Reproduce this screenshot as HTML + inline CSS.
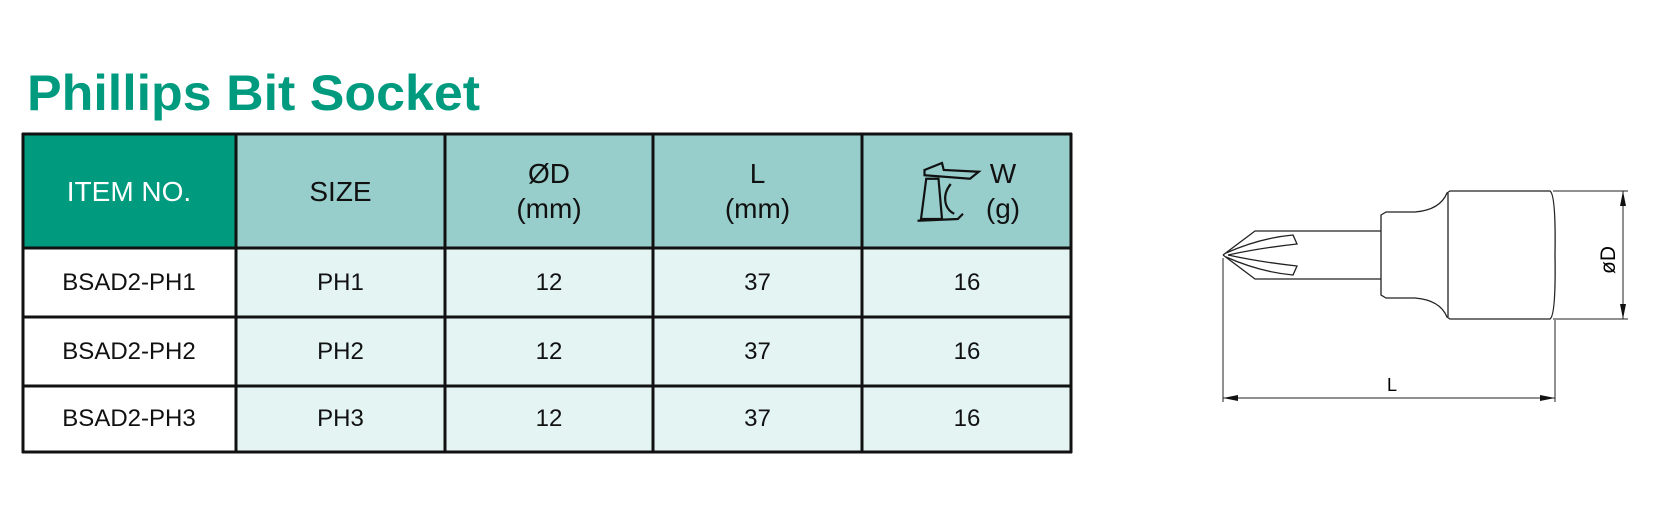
<!DOCTYPE html>
<html><head><meta charset="utf-8"><style>
body{margin:0;width:1676px;height:519px;background:#fff;position:relative;overflow:hidden;font-family:"Liberation Sans",sans-serif}
.c{position:absolute;display:flex;align-items:center;justify-content:center;text-align:center;color:#111;box-sizing:border-box;line-height:1.25}
.h{font-size:28px}
.b{font-size:24px}
</style></head><body>
<svg style="position:absolute;left:0;top:0" width="520" height="130"><text x="27" y="110" font-family="Liberation Sans" font-weight="bold" font-size="50" fill="#009a7f" textLength="453" lengthAdjust="spacingAndGlyphs">Phillips Bit Socket</text></svg>
<div style="position:absolute;left:0;top:0">
<div class="c h" style="left:22px;top:134px;width:214px;height:114px;background:#009a7f;color:#fff">ITEM NO.</div>
<div class="c h" style="left:236px;top:134px;width:209px;height:114px;background:#97cecc">SIZE</div>
<div class="c h" style="left:445px;top:134px;width:208px;height:114px;background:#97cecc">ØD<br>(mm)</div>
<div class="c h" style="left:653px;top:134px;width:209px;height:114px;background:#97cecc">L<br>(mm)</div>
<div class="c h" style="left:862px;top:134px;width:210px;height:114px;background:#97cecc">
<svg width="70" height="76" viewBox="0 0 80 76" style="margin-right:2px"><g fill="none" stroke="#111" stroke-width="2.5"><path d="M12 14 L32 6 L34 14 L74 16 L64 24 L12 20 Z"/><path d="M14 24 L28 24 L32 70 L8 70 Z"/><path d="M42 30 C32 42 34 58 46 64"/><path d="M4 72 L50 70 L56 64"/></g></svg>
<span>W<br>(g)</span></div>
<div>
<div class="c b" style="left:22px;top:248px;width:214px;height:69px;background:#fff">BSAD2-PH1</div>
<div class="c b" style="left:236px;top:248px;width:209px;height:69px;background:#e3f4f3">PH1</div>
<div class="c b" style="left:445px;top:248px;width:208px;height:69px;background:#e3f4f3">12</div>
<div class="c b" style="left:653px;top:248px;width:209px;height:69px;background:#e3f4f3">37</div>
<div class="c b" style="left:862px;top:248px;width:210px;height:69px;background:#e3f4f3">16</div>
<div class="c b" style="left:22px;top:317px;width:214px;height:69px;background:#fff">BSAD2-PH2</div>
<div class="c b" style="left:236px;top:317px;width:209px;height:69px;background:#e3f4f3">PH2</div>
<div class="c b" style="left:445px;top:317px;width:208px;height:69px;background:#e3f4f3">12</div>
<div class="c b" style="left:653px;top:317px;width:209px;height:69px;background:#e3f4f3">37</div>
<div class="c b" style="left:862px;top:317px;width:210px;height:69px;background:#e3f4f3">16</div>
<div class="c b" style="left:22px;top:386px;width:214px;height:66px;background:#fff">BSAD2-PH3</div>
<div class="c b" style="left:236px;top:386px;width:209px;height:66px;background:#e3f4f3">PH3</div>
<div class="c b" style="left:445px;top:386px;width:208px;height:66px;background:#e3f4f3">12</div>
<div class="c b" style="left:653px;top:386px;width:209px;height:66px;background:#e3f4f3">37</div>
<div class="c b" style="left:862px;top:386px;width:210px;height:66px;background:#e3f4f3">16</div>
</div>
<svg style="position:absolute;left:0;top:0" width="1100" height="470"><g stroke="#111" stroke-width="3"><line x1="22" y1="134" x2="1072" y2="134"/><line x1="22" y1="248" x2="1072" y2="248"/><line x1="22" y1="317" x2="1072" y2="317"/><line x1="22" y1="386" x2="1072" y2="386"/><line x1="22" y1="452" x2="1072" y2="452"/><line x1="23" y1="133" x2="23" y2="453"/><line x1="236" y1="133" x2="236" y2="453"/><line x1="445" y1="133" x2="445" y2="453"/><line x1="653" y1="133" x2="653" y2="453"/><line x1="862" y1="133" x2="862" y2="453"/><line x1="1071" y1="133" x2="1071" y2="453"/></g></svg>
</div>
<svg style="position:absolute;left:0;top:0" width="1676" height="519"><g fill="none" stroke="#222" stroke-width="1.3">
<path d="M1223 255 L1255 231 L1297 231 L1381 231 M1223 255 L1255 279 L1297 279 L1381 279"/>
<path d="M1226 253 Q1260 238 1293 235 L1297 244 Q1260 248 1228 255 M1226 257 Q1260 272 1293 275 L1297 266 Q1260 262 1228 255"/>
<path d="M1381 215 L1386 212 L1415 212 Q1440 210 1447 193 L1450 191 L1550 191 Q1556 195 1555 255 Q1556 315 1550 319 L1450 319 L1447 317 Q1440 300 1415 298 L1386 298 L1381 295 Z"/>
<line x1="1448" y1="193" x2="1448" y2="317"/>
<g stroke-width="1"><line x1="1223" y1="258" x2="1223" y2="402"/><line x1="1555" y1="320" x2="1555" y2="402"/><line x1="1223" y1="398" x2="1555" y2="398"/><line x1="1553" y1="191" x2="1628" y2="191"/><line x1="1553" y1="319" x2="1628" y2="319"/><line x1="1623" y1="191" x2="1623" y2="319"/></g>
</g><g fill="#111"><path d="M1223 398 L1238 395 L1238 401 Z"/><path d="M1555 398 L1540 395 L1540 401 Z"/><path d="M1623 191 L1620 206 L1626 206 Z"/><path d="M1623 319 L1620 304 L1626 304 Z"/></g>
<text x="1392" y="391" font-size="18" text-anchor="middle" font-family="Liberation Sans">L</text>
<text x="0" y="0" font-size="21" text-anchor="middle" font-family="Liberation Sans" transform="translate(1615 260) rotate(-90)">øD</text>
</svg>
</body></html>
